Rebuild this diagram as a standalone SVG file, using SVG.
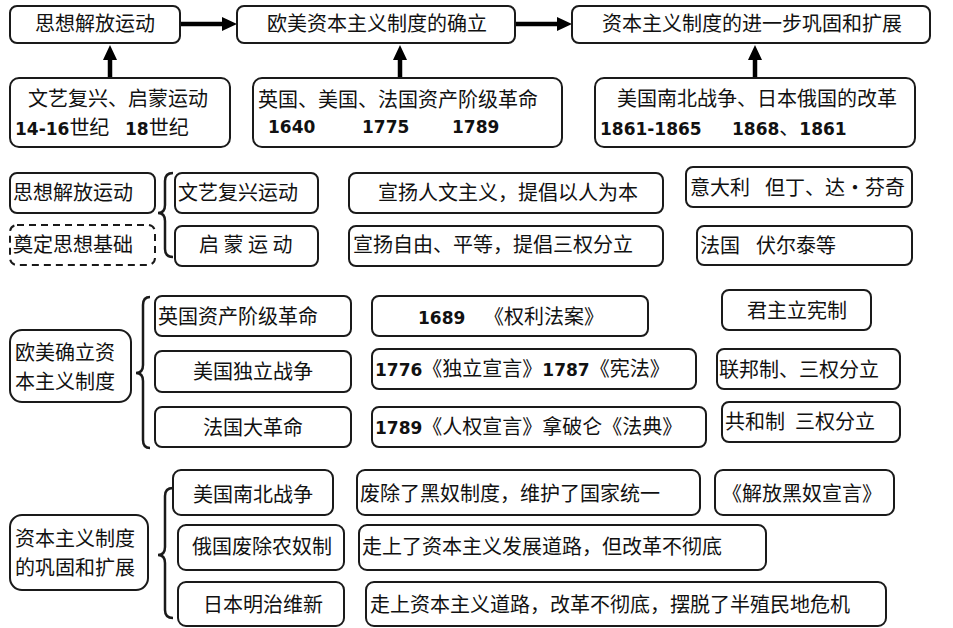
<svg xmlns="http://www.w3.org/2000/svg" width="953" height="628" viewBox="0 0 953 628">
<style>
.box{fill:#fff;stroke:#1a1a1a;stroke-width:2}
.dash{stroke-dasharray:7 5}
.t{font-family:"Noto Sans CJK SC","Noto Sans CJK TC",sans-serif;font-size:20px;fill:#111}
.n{font-family:"DejaVu Sans","Liberation Sans",sans-serif;font-weight:bold;font-size:17px}
.ar{stroke:#000;stroke-width:4.5;fill:none}
.br{stroke:#1a1a1a;stroke-width:2.5;fill:none}
</style>
<defs>
<marker id="ah" markerUnits="userSpaceOnUse" markerWidth="16" markerHeight="14" refX="0" refY="7" orient="auto">
<path d="M0,0 L15,7 L0,14 z" fill="#000"/>
</marker>
</defs>
<rect width="953" height="628" fill="#fff"/>
<g id="connectors">
<line class="ar" x1="180" y1="24" x2="222" y2="24" marker-end="url(#ah)"/>
<line class="ar" x1="515" y1="24" x2="557" y2="24" marker-end="url(#ah)"/>
<line class="ar" x1="110" y1="78" x2="110" y2="60" marker-end="url(#ah)"/>
<line class="ar" x1="400" y1="78" x2="400" y2="60" marker-end="url(#ah)"/>
<line class="ar" x1="755" y1="78" x2="755" y2="60" marker-end="url(#ah)"/>
<path class="br" d="M173,173 Q165,173 165,181 L165,205 Q165,213 158,213 Q165,213 165,221 L165,249 Q165,257 173,257"/>
<path class="br" d="M150,297 Q143,297 143,305 L143,365 Q143,373 136,373 Q143,373 143,381 L143,440 Q143,448 150,448"/>
<path class="br" d="M173,488 Q165,488 165,496 L165,547 Q165,555 158,555 Q165,555 165,563 L165,610 Q165,618 173,618"/>
</g>
<g id="n1"><rect class="box" x="10" y="6" width="170" height="37" rx="7"/><text class="t" x="95" y="31" text-anchor="middle">思想解放运动</text></g>
<g id="n2"><rect class="box" x="237" y="6" width="278" height="37" rx="7"/><text class="t" x="377" y="31" text-anchor="middle">欧美资本主义制度的确立</text></g>
<g id="n3"><rect class="box" x="572" y="6" width="358" height="37" rx="7"/><text class="t" x="752" y="31" text-anchor="middle">资本主义制度的进一步巩固和扩展</text></g>
<g id="n4"><rect class="box" x="10" y="78" width="220" height="69" rx="9"/><text class="t" x="28" y="106">文艺复兴、启蒙运动<tspan class="n" x="15" y="135">14-16</tspan>世纪 <tspan class="n" x="125">18</tspan>世纪</text></g>
<g id="n5"><rect class="box" x="253" y="78" width="309" height="69" rx="9"/><text class="t" x="258" y="107">英国、美国、法国资产阶级革命<tspan class="n" x="268" y="133">1640</tspan><tspan class="n" x="362">1775</tspan><tspan class="n" x="452">1789</tspan></text></g>
<g id="n6"><rect class="box" x="595" y="78" width="320" height="69" rx="9"/><text class="t" x="617" y="106">美国南北战争、日本俄国的改革<tspan class="n" x="600" y="135">1861-1865</tspan><tspan class="n" x="732">1868</tspan>、<tspan class="n">1861</tspan></text></g>
<g id="s2a"><rect class="box" x="10" y="173" width="145" height="40" rx="7"/><text class="t" x="13" y="200">思想解放运动</text></g>
<g id="s2b"><rect class="box dash" x="10" y="225" width="145" height="40" rx="7"/><text class="t" x="13" y="252">奠定思想基础</text></g>
<g id="s2c"><rect class="box" x="175" y="173" width="143" height="40" rx="7"/><text class="t" x="178" y="200">文艺复兴运动</text></g>
<g id="s2d"><rect class="box" x="175" y="226" width="143" height="40" rx="7"/><text class="t" x="199" y="252" xml:space="preserve">启 蒙 运 动</text></g>
<g id="s2e"><rect class="box" x="349" y="173" width="314" height="40" rx="7"/><text class="t" x="378" y="200">宣扬人文主义，提倡以人为本</text></g>
<g id="s2f"><rect class="box" x="349" y="226" width="314" height="40" rx="7"/><text class="t" x="353" y="252">宣扬自由、平等，提倡三权分立</text></g>
<g id="s2g"><rect class="box" x="686" y="167" width="226" height="40" rx="7"/><text class="t" x="690" y="195">意大利 <tspan x="765">但丁、达•芬奇</tspan></text></g>
<g id="s2h"><rect class="box" x="697" y="226" width="215" height="39" rx="7"/><text class="t" x="700" y="253">法国 <tspan x="756">伏尔泰等</tspan></text></g>
<g id="s3a"><rect class="box" x="10" y="330" width="121" height="72" rx="12"/><text class="t" x="15" y="360">欧美确立资<tspan x="15" y="389">本主义制度</tspan></text></g>
<g id="s3b"><rect class="box" x="155" y="296" width="196" height="40" rx="7"/><text class="t" x="158" y="324">英国资产阶级革命</text></g>
<g id="s3c"><rect class="box" x="155" y="351" width="196" height="41" rx="7"/><text class="t" x="193" y="379">美国独立战争</text></g>
<g id="s3d"><rect class="box" x="155" y="407" width="196" height="40" rx="7"/><text class="t" x="203" y="435">法国大革命</text></g>
<g id="s3e"><rect class="box" x="372" y="296" width="276" height="40" rx="7"/><text class="t" x="418" y="324"><tspan class="n">1689</tspan> <tspan x="484">《权利法案》</tspan></text></g>
<g id="s3f"><rect class="box" x="372" y="349" width="324" height="40" rx="7"/><text class="t" x="375" y="376"><tspan class="n">1776</tspan>《独立宣言》<tspan class="n">1787</tspan>《宪法》</text></g>
<g id="s3g"><rect class="box" x="372" y="407" width="334" height="40" rx="7"/><text class="t" x="375" y="434"><tspan class="n">1789</tspan>《人权宣言》拿破仑《法典》</text></g>
<g id="s3h"><rect class="box" x="722" y="290" width="149" height="40" rx="7"/><text class="t" x="747" y="318">君主立宪制</text></g>
<g id="s3i"><rect class="box" x="717" y="349" width="183" height="40" rx="7"/><text class="t" x="719" y="377">联邦制、三权分立</text></g>
<g id="s3j"><rect class="box" x="722" y="402" width="178" height="40" rx="7"/><text class="t" x="725" y="429">共和制 <tspan x="795">三权分立</tspan></text></g>
<g id="s4a"><rect class="box" x="10" y="515" width="138" height="75" rx="12"/><text class="t" x="15" y="546">资本主义制度<tspan x="15" y="575">的巩固和扩展</tspan></text></g>
<g id="s4b"><rect class="box" x="173" y="470" width="160" height="45" rx="8"/><text class="t" x="193" y="502">美国南北战争</text></g>
<g id="s4c"><rect class="box" x="178" y="525" width="166" height="45" rx="8"/><text class="t" x="192" y="554">俄国废除农奴制</text></g>
<g id="s4d"><rect class="box" x="178" y="582" width="166" height="44" rx="8"/><text class="t" x="203" y="612">日本明治维新</text></g>
<g id="s4e"><rect class="box" x="357" y="470" width="343" height="45" rx="8"/><text class="t" x="360" y="501">废除了黑奴制度，维护了国家统一</text></g>
<g id="s4f"><rect class="box" x="715" y="470" width="179" height="45" rx="8"/><text class="t" x="722" y="501">《解放黑奴宣言》</text></g>
<g id="s4g"><rect class="box" x="359" y="525" width="407" height="45" rx="8"/><text class="t" x="362" y="554">走上了资本主义发展道路，但改革不彻底</text></g>
<g id="s4h"><rect class="box" x="366" y="582" width="520" height="44" rx="8"/><text class="t" x="370" y="612">走上资本主义道路，改革不彻底，摆脱了半殖民地危机</text></g>
</svg>
